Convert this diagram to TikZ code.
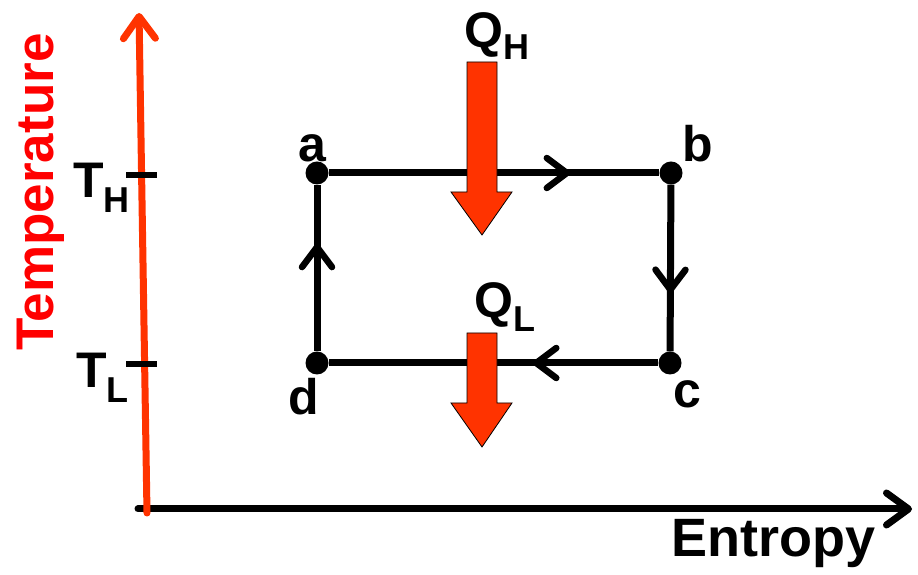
\documentclass[tikz,border=0pt]{standalone}
\usepackage{fontspec}
\setmainfont{Liberation Sans}
\usetikzlibrary{arrows.meta,decorations.markings}
\definecolor{axisred}{HTML}{FF3300}
\definecolor{labelred}{HTML}{FF0000}

\begin{document}
\begin{tikzpicture}[x=1pt,y=1pt,
      axisline/.style={line width=7pt,line cap=round,-{Straight Barb[length=22pt,width=32pt,round]}},
      cycline/.style={line width=7pt,postaction={decorate}},
      midtip/.style={decoration={markings,mark=at position #1 with {\arrow[line width=6.5pt]{Straight Barb[length=20pt,width=30pt,round]}}}},
      dot/.style={circle,fill=black,inner sep=0pt,minimum size=23pt},
      heat/.style={fill=axisred,draw=black,line width=0.8pt,line join=miter},
      lbl/.style={inner sep=0pt,font=\bfseries\fontsize{50}{56}\selectfont}]
    \useasboundingbox (0,0) rectangle (918,575);

    % axes: entropy (black) under temperature (red)
    \coordinate (sstart) at (138,66);
    \coordinate (send) at (912,66);
    \coordinate (tstart) at (147,62);
    \coordinate (tend) at (139,562);
    \draw[axisline,black] (sstart) -- (send);
    \draw[axisline,axisred] (tstart) -- (tend);

    % axis titles
    \node[lbl,anchor=base west] (slabel) at (671,18) {\fontsize{54}{60}\selectfont Entropy};
    \node[lbl,anchor=base,rotate=90,text=labelred] (tlabel) at (53,383) {\fontsize{53}{58}\selectfont Temperature};

    % reservoir ticks
    \draw[line width=6pt] (126,400) -- (157,400);
    \draw[line width=6pt] (126,211) -- (157,211);
    \node[lbl,anchor=base west] (th) at (73,377) {T\raisebox{-15pt}{\fontsize{36}{40}\selectfont H}};
    \node[lbl,anchor=base west] (tl) at (76,187) {T\raisebox{-15pt}{\fontsize{36}{40}\selectfont L}};

    % state points
    \node[dot] (a) at (317,402) {};
    \node[dot] (b) at (671,402) {};
    \node[dot] (c) at (670,212) {};
    \node[dot] (d) at (317,212) {};
    \node[lbl,anchor=base] at (312,413) {a};
    \node[lbl,anchor=base] at (698,413) {b};
    \node[lbl,anchor=base] at (687,167) {c};
    \node[lbl,anchor=base] at (304,160) {d};

    % cycle a-b-c-d
    \draw[cycline,midtip=0.73] (a) -- (b);
    \draw[cycline,midtip=0.65] (b) -- (c);
    \draw[cycline,midtip=0.38] (c) -- (d);
    \draw[cycline,midtip=0.645] (d) -- (a);

    % heat flows
    \draw[heat] (467,513) -- (497,513) -- (497,383) -- (512,383) -- (482,340)
      -- (451,383) -- (467,383) -- cycle;
    \draw[heat] (467,242) -- (497,242) -- (497,172) -- (512,172) -- (482,128)
      -- (451,172) -- (467,172) -- cycle;
    \node[lbl,anchor=base west] (qh) at (464,527) {Q\raisebox{-12pt}{\fontsize{36}{40}\selectfont H}};
    \node[lbl,anchor=base west] (ql) at (474,257) {Q\raisebox{-14pt}{\fontsize{36}{40}\selectfont L}};
  \end{tikzpicture}
\end{document}
